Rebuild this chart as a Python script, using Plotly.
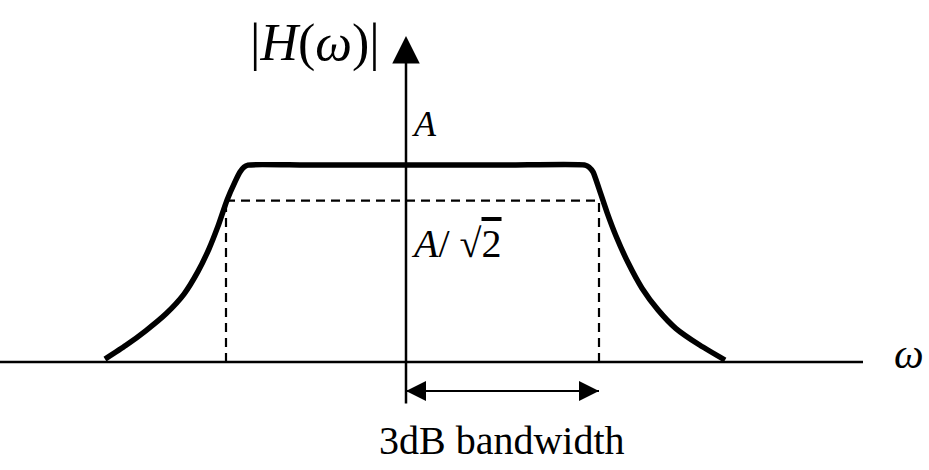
import plotly.graph_objects as go

# Magnitude response |H(w)| as drawn (w in arbitrary units, A = 1)
omega = [-3.01, -2.80, -2.60, -2.40, -2.22, -2.08, -1.97, -1.88, -1.79, -1.71, -1.66, -1.62, -1.58,
         -1.00, 0.00, 1.00,
         1.79, 1.83, 1.87, 1.93, 2.01, 2.10, 2.22, 2.36, 2.52, 2.70, 2.94, 3.19]
magnitude = [0.015, 0.085, 0.160, 0.245, 0.345, 0.460, 0.575, 0.690, 0.822, 0.915, 0.965, 0.990, 1.0,
             1.0, 1.0, 1.0,
             1.0, 0.990, 0.965, 0.880, 0.760, 0.640, 0.505, 0.375, 0.265, 0.170, 0.085, 0.010]

# 3 dB points and level (as drawn)
cutoff_omega = [-1.80, 1.93]
level_3db = 0.82

# axis extents
omega_axis = [-4.06, 4.57]
mag_axis = [-0.218, 1.655]
bw_arrow_level = -0.147
bw_span = [0.0, 1.93]

SERIF = "Liberation Serif, Times New Roman, serif"

fig = go.Figure()

# horizontal axis
fig.add_trace(go.Scatter(x=omega_axis, y=[0, 0], mode="lines",
                         line=dict(color="black", width=2.5), hoverinfo="skip"))

# dashed 3dB level
fig.add_trace(go.Scatter(x=cutoff_omega, y=[level_3db, level_3db], mode="lines",
                         line=dict(color="black", width=2.2, dash="9px,6px"), hoverinfo="skip"))
for c in cutoff_omega:
    fig.add_trace(go.Scatter(x=[c, c], y=[0, level_3db], mode="lines",
                             line=dict(color="black", width=2.2, dash="9px,6px"), hoverinfo="skip"))

# response curve
fig.add_trace(go.Scatter(x=omega, y=magnitude, mode="lines",
                         line=dict(color="black", width=5.5, shape="spline", smoothing=0.6),
                         hoverinfo="skip"))

# bandwidth arrow shaft
fig.add_trace(go.Scatter(x=bw_span, y=[bw_arrow_level, bw_arrow_level], mode="lines",
                         line=dict(color="black", width=2), hoverinfo="skip"))

bw_mid = (bw_span[0] + bw_span[1]) / 2

annotations = [
    # vertical axis with arrow
    dict(x=0, y=mag_axis[1], ax=0, ay=mag_axis[0], xref="x", yref="y", axref="x", ayref="y",
         showarrow=True, arrowhead=2, arrowsize=2.2, arrowwidth=2.5, arrowcolor="black", text=""),
    # bandwidth arrow heads
    dict(x=bw_span[1], y=bw_arrow_level, ax=bw_mid, ay=bw_arrow_level,
         xref="x", yref="y", axref="x", ayref="y",
         showarrow=True, arrowhead=2, arrowsize=2.0, arrowwidth=2, arrowcolor="black", text=""),
    dict(x=bw_span[0], y=bw_arrow_level, ax=bw_mid, ay=bw_arrow_level,
         xref="x", yref="y", axref="x", ayref="y",
         showarrow=True, arrowhead=2, arrowsize=2.0, arrowwidth=2, arrowcolor="black", text=""),
    dict(x=0.04, y=1.21, xref="x", yref="y", text="<i>A</i>", showarrow=False,
         xanchor="left", yanchor="middle", font=dict(family=SERIF, size=36, color="black")),
    dict(x=0.03, y=0.60, xref="x", yref="y",
         text="<i>A</i>/ √<span style='text-decoration:overline'>2</span>", showarrow=False,
         xanchor="left", yanchor="middle", font=dict(family=SERIF, size=40, color="black")),
    dict(x=-0.91, y=1.62, xref="x", yref="y",
         text="|<i>H</i>(<i>ω</i>)|", showarrow=False,
         xanchor="center", yanchor="middle", font=dict(family=SERIF, size=52, color="black")),
    dict(x=5.03, y=0.04, xref="x", yref="y", text="<i>ω</i>", showarrow=False,
         xanchor="center", yanchor="middle", font=dict(family=SERIF, size=42, color="black")),
    dict(x=0.96, y=-0.40, xref="x", yref="y", text="3dB bandwidth", showarrow=False,
         xanchor="center", yanchor="middle", font=dict(family=SERIF, size=40, color="black")),
]

fig.update_layout(
    width=929, height=470,
    margin=dict(l=0, r=0, t=0, b=0),
    paper_bgcolor="white", plot_bgcolor="white",
    showlegend=False,
    xaxis=dict(range=[-4.06, 5.23], visible=False, fixedrange=True),
    yaxis=dict(range=[-0.548, 1.838], visible=False, fixedrange=True),
    annotations=annotations,
)

fig.write_html("out.html", config={"displayModeBar": False},
               post_script="document.body.style.margin='0';document.body.style.overflow='hidden';")
